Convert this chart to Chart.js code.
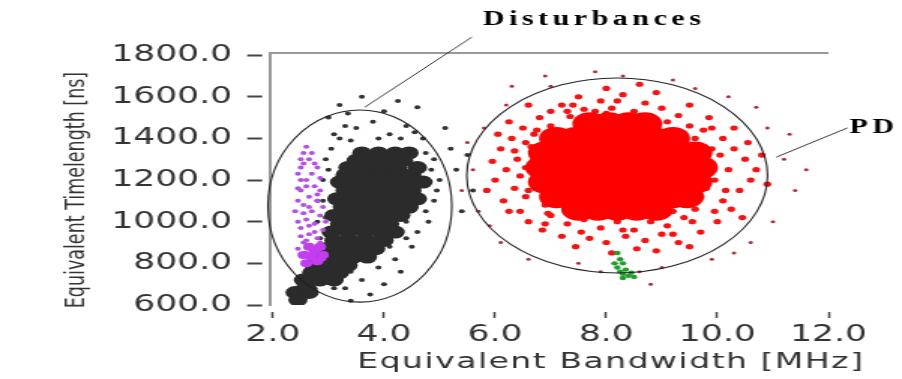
<!DOCTYPE html>
<html>
<head>
<meta charset="utf-8">
<script src="https://cdn.jsdelivr.net/npm/chart.js@4.4.1/dist/chart.umd.min.js"></script>
<style>
  html, body { margin: 0; padding: 0; background: #fff; overflow: hidden; }
  /* the source picture is stretched sideways, so the canvas is too */
  #wrap { width: 601px; height: 379px; transform: scaleX(1.5008); transform-origin: 0 0; }
</style>
</head>
<body>
<div id="wrap"><canvas id="chart"></canvas></div>
<script>
// ── Data (bandwidth MHz, timelength ns) ──────────────────────────────────────
const xTicks = [2, 4, 6, 8, 10, 12];
const yTicks = [600, 800, 1000, 1200, 1400, 1600, 1800];

const redCore = [
  [7.7,1470],[8.05,1470],[8.4,1470],[8.7,1470],
  [7.1,1400],[7.45,1400],[7.8,1400],[8.15,1400],[8.5,1400],[8.85,1400],[9.2,1400],
  [6.9,1330],[7.25,1330],[7.6,1330],[7.95,1330],[8.3,1330],[8.65,1330],[9.0,1330],[9.35,1330],[9.6,1330],
  [6.85,1260],[7.2,1260],[7.55,1260],[7.9,1260],[8.25,1260],[8.6,1260],[8.95,1260],[9.3,1260],[9.7,1260],
  [6.9,1190],[7.25,1190],[7.6,1190],[7.95,1190],[8.3,1190],[8.65,1190],[9.0,1190],[9.35,1190],[9.6,1190],
  [7.1,1120],[7.45,1120],[7.8,1120],[8.15,1120],[8.5,1120],[8.85,1120],[9.2,1120],[9.45,1120],
  [7.5,1060],[7.85,1060],[8.2,1060],[8.55,1060],[8.9,1060],
];
const redFringe = [
  [7.2,1560],[7.5,1600],[7.9,1580],[8.3,1610],[8.7,1570],[9.0,1545],[7.0,1530],[7.6,1540],[8.1,1545],
  [8.5,1530],[9.3,1510],[6.8,1500],[8.9,1620],[7.35,1505],[8.0,1640],[9.5,1560],[6.6,1560],[8.6,1660],
  [6.5,1450],[6.3,1400],[6.1,1350],[6.4,1300],[6.2,1250],[6.0,1200],[6.35,1160],[6.15,1100],[6.45,1050],
  [6.6,1000],[6.55,1380],[6.45,1220],[5.95,1290],[6.25,1480],[6.7,1420],[6.55,1120],[5.85,1150],[6.05,1420],
  [9.9,1450],[10.1,1400],[10.3,1350],[10.5,1300],[10.2,1250],[10.6,1200],[10.4,1150],[10.1,1100],[9.95,1050],
  [10.7,1250],[10.9,1180],[10.3,1450],[10.0,1000],[9.85,1500],[10.55,1380],[10.8,1320],[10.25,1060],[10.45,1020],
  [7.0,1030],[7.3,990],[7.6,1010],[7.9,970],[8.2,1000],[8.5,960],[8.8,1000],[9.1,980],[9.4,1020],[9.6,1060],
  [7.2,930],[7.7,920],[8.0,900],[8.35,930],[8.7,910],[9.0,940],[9.3,900],[7.45,880],[8.55,870],[9.7,950],
  [6.85,960],[8.1,850],[8.9,860],[9.5,880],
  [6.7,1300],[6.75,1180],[9.85,1280],[9.8,1160],[7.0,1460],[9.5,1460],[7.2,1080],[9.4,1080],[8.0,1520],
  [8.4,1050],[7.3,1530],[9.6,1400],[6.65,1360],[9.9,1350],[9.7,1120],[6.9,1080],
  [7.4,1560],[7.8,1530],[8.2,1580],[8.6,1510],[9.1,1480],[6.75,1440],[6.55,1260],[6.6,1150],[6.95,1040],
  [7.4,1030],[7.8,1020],[8.7,1040],[9.2,1050],[9.55,1000],[9.95,1200],[10.05,1320],[9.75,1440],[6.35,1340],
  [6.9,990],[8.3,960],[7.55,950],[9.2,940],[10.15,1150],[6.25,1050],
];
const redSparse = [
  [5.6,1250],[5.8,1450],[5.7,1050],[6.1,900],[6.3,1650],[6.9,1700],[7.8,1720],[9.2,1680],[10.2,1600],
  [10.9,1450],[11.2,1300],[11.4,1150],[11.0,1000],[10.6,900],[9.9,820],[9.0,780],[8.6,760],[7.5,800],
  [6.6,820],[5.9,980],[5.5,1380],[11.6,1250],[10.7,1550],[7.0,1650],[8.3,1700],[9.6,1640],[11.3,1420],
  [10.3,850],[6.2,1560],[5.4,1150],[8.8,700],[7.9,760],
];
const blackCore = [
  [3.6,1330],[3.9,1330],[4.2,1330],[4.45,1330],
  [3.5,1295],[3.8,1295],[4.1,1295],[4.35,1295],
  [3.35,1260],[3.65,1260],[3.95,1260],[4.25,1260],[4.6,1260],
  [3.3,1225],[3.6,1225],[3.9,1225],[4.2,1225],[4.5,1225],
  [3.2,1190],[3.5,1190],[3.8,1190],[4.1,1190],[4.4,1190],[4.7,1190],
  [3.3,1150],[3.6,1150],[3.9,1150],[4.2,1150],[4.5,1150],
  [3.15,1110],[3.45,1110],[3.75,1110],[4.05,1110],[4.35,1110],[4.6,1110],
  [3.25,1070],[3.55,1070],[3.85,1070],[4.15,1070],[4.45,1070],
  [3.1,1030],[3.4,1030],[3.7,1030],[4.0,1030],[4.3,1030],
  [3.2,990],[3.5,990],[3.8,990],[4.1,990],
  [3.05,950],[3.35,950],[3.65,950],[3.95,950],[4.2,950],
  [3.1,910],[3.4,910],[3.7,910],[4.0,910],
  [2.95,870],[3.25,870],[3.55,870],[3.85,870],
  [2.85,830],[3.15,830],[3.45,830],[3.7,830],
  [2.75,790],[3.05,790],[3.35,790],
  [2.7,755],[2.95,755],[3.2,755],
  [2.55,720],[2.85,720],[3.1,720],
  [2.4,660],[2.65,660],[2.45,625],[2.6,690],
];
const blackFringe = [
  [3.5,1450],[3.8,1480],[4.1,1420],[4.4,1460],[4.7,1400],[3.2,1400],[4.0,1530],[4.9,1300],[5.0,1200],
  [4.9,1100],[4.8,1000],[4.6,950],[4.5,880],[4.2,820],[3.9,780],[3.6,720],[3.3,680],[2.95,1300],
  [2.9,1200],[3.0,1500],[3.35,1520],[4.6,1550],[5.2,1350],[5.3,1250],[4.4,1000],[4.7,1180],[4.85,1250],
  [3.05,1350],[2.95,1020],[2.85,920],[3.2,1560],[4.25,1580],[5.1,1450],[4.3,760],[3.75,650],[3.4,620],
  [5.4,1050],[5.6,1150],[5.5,1320],[3.6,1600],[4.0,700],[2.8,1100],
  [3.0,1250],[3.1,1420],[3.4,1390],[4.75,1330],[4.95,1150],[4.75,1050],[4.5,1050],[3.3,1460],[3.9,1400],
  [4.3,1400],[4.55,1430],[2.9,1100],[2.8,1000],[3.7,820],[4.1,880],[3.4,760],[3.1,680],[2.75,680],
  [2.5,740],[4.4,920],
];
const purplePts = [
  [2.55,1330],[2.65,1300],[2.5,1260],[2.7,1230],[2.6,1200],[2.75,1170],[2.5,1150],[2.65,1120],[2.8,1100],
  [2.55,1080],[2.7,1050],[2.85,1030],[2.6,1010],[2.75,990],[2.5,970],[2.9,960],[2.65,940],[2.8,920],
  [2.55,900],[2.7,880],[2.85,870],[2.6,850],[2.75,835],[2.9,820],[2.5,1200],[2.8,1260],[2.45,1100],
  [2.95,1000],[2.6,1360],[2.85,1150],[2.45,1000],
  [2.5,1300],[2.7,1330],[2.45,1230],[2.85,1210],[2.6,1170],[2.8,1130],[2.55,1040],[2.9,1070],[2.4,1050],
  [2.65,1070],[2.5,930],[2.75,950],[2.6,910],[2.85,900],[2.45,870],[2.9,880],[2.65,980],[2.55,1280],
  [2.75,1280],[2.45,1160],
];
const purpleCore = [[2.7,830],[2.8,810],[2.6,800],[2.9,840],[2.75,860],[2.65,880],[2.55,840],[2.85,880]];
const greenPts = [
  [8.2,850],[8.25,820],[8.3,800],[8.2,780],[8.35,770],[8.3,750],[8.4,740],[8.25,760],[8.45,755],
  [8.15,800],[8.3,730],[8.5,735],
];

// cluster outlines and their labels, in data units
const outlines = [
  { cx: 3.565, cy: 1075, rx: 1.655, ry: 461 },
  { cx: 8.196, cy: 1222, rx: 2.707, ry: 468 },
];
const callouts = [
  { text: 'Disturbances', tx: 5.78, ty: 1944, from: [5.58, 1886], to: [3.655, 1550] },
  { text: 'PD',           tx: 12.38, ty: 1426, from: [12.34, 1450], to: [11.06, 1310] },
];

const pts = arr => arr.map(([x, y]) => ({ x, y }));
const set = (data, color, r) => ({
  data: pts(data), backgroundColor: color, pointRadius: r, borderWidth: 0, pointHoverRadius: r,
});

// ── Extras: frame top, ellipses, callouts, axis titles ───────────────────────
const extras = {
  id: 'extras',
  afterDatasetsDraw(chart) {
    const { ctx, chartArea: a, scales: { x, y } } = chart;
    ctx.save();
    ctx.strokeStyle = '#999';
    ctx.lineWidth = 2;
    ctx.beginPath();
    ctx.moveTo(a.left, a.top);
    ctx.lineTo(a.right, a.top);
    ctx.stroke();

    ctx.strokeStyle = '#222';
    ctx.lineWidth = 1.1;
    outlines.forEach(o => {
      const cx = x.getPixelForValue(o.cx), cy = y.getPixelForValue(o.cy);
      const rx = x.getPixelForValue(o.cx + o.rx) - cx;
      const ry = cy - y.getPixelForValue(o.cy + o.ry);
      ctx.beginPath();
      ctx.ellipse(cx, cy, rx, ry, 0, 0, Math.PI * 2);
      ctx.stroke();
    });

    ctx.lineWidth = 0.9;
    ctx.fillStyle = '#000';
    ctx.font = 'bold 20px "Liberation Serif"';
    ctx.letterSpacing = '3px';
    ctx.textBaseline = 'alphabetic';
    callouts.forEach(c => {
      ctx.beginPath();
      ctx.moveTo(x.getPixelForValue(c.from[0]), y.getPixelForValue(c.from[1]));
      ctx.lineTo(x.getPixelForValue(c.to[0]), y.getPixelForValue(c.to[1]));
      ctx.stroke();
      ctx.fillText(c.text, x.getPixelForValue(c.tx), y.getPixelForValue(c.ty));
    });

    ctx.fillStyle = '#333';
    ctx.font = '22px "DejaVu Sans"';
    ctx.letterSpacing = '1px';
    ctx.textAlign = 'left';
    ctx.fillText('Equivalent Bandwidth [MHz]', 238, 368);

    ctx.font = '17.5px "DejaVu Sans"';
    ctx.letterSpacing = '0px';
    ctx.textAlign = 'center';
    ctx.translate(56, 190);
    ctx.rotate(-Math.PI / 2);
    ctx.fillText('Equivalent Timelength [ns]', 0, 0);
    ctx.restore();
  },
};

// ── Chart ────────────────────────────────────────────────────────────────────
const tickFont = { family: 'DejaVu Sans', size: 23 };

new Chart(document.getElementById('chart'), {
  type: 'scatter',
  data: {
    datasets: [
      set(greenPts, '#1f9e2a', 2.2),
      set(purpleCore, '#c23cf0', 4),
      set(purplePts, '#b44fe6', 2),
      set(blackCore, '#2b2b2b', 6.5),
      set(blackFringe, '#333', 2),
      set(redCore, '#ff0000', 11.5),
      set(redFringe, '#f21414', 2.6),
      set(redSparse, '#b42a3c', 1.5),
    ],
  },
  options: {
    animation: false,
    responsive: true,
    maintainAspectRatio: false,
    events: [],
    layout: { padding: { top: 53, right: 49, left: 0, bottom: 0 } },
    plugins: { legend: { display: false }, tooltip: { enabled: false } },
    scales: {
      x: {
        min: 1.95, max: 12,
        afterBuildTicks: s => { s.ticks = xTicks.map(v => ({ value: v })); },
        afterFit: s => { s.height = 74; },
        border: { display: false },
        grid: {
          drawOnChartArea: false, tickLength: 13, tickWidth: 1.5, tickColor: '#444',
          tickBorderDash: [6, 7], tickBorderDashOffset: 6,
        },
        ticks: { font: tickFont, color: '#333', padding: 3, maxRotation: 0, callback: v => v.toFixed(1) },
      },
      y: {
        min: 600, max: 1810,
        afterBuildTicks: s => { s.ticks = yTicks.map(v => ({ value: v })); },
        afterFit: s => { s.width = 180; },
        border: { display: true, color: '#999', width: 2 },
        grid: {
          drawOnChartArea: false, tickLength: 15.3, tickWidth: 2, tickColor: '#444',
          tickBorderDash: [10, 6],
        },
        ticks: { font: tickFont, color: '#333', padding: 10, callback: v => v.toFixed(1) },
      },
    },
  },
  plugins: [extras],
});
</script>
</body>
</html>
